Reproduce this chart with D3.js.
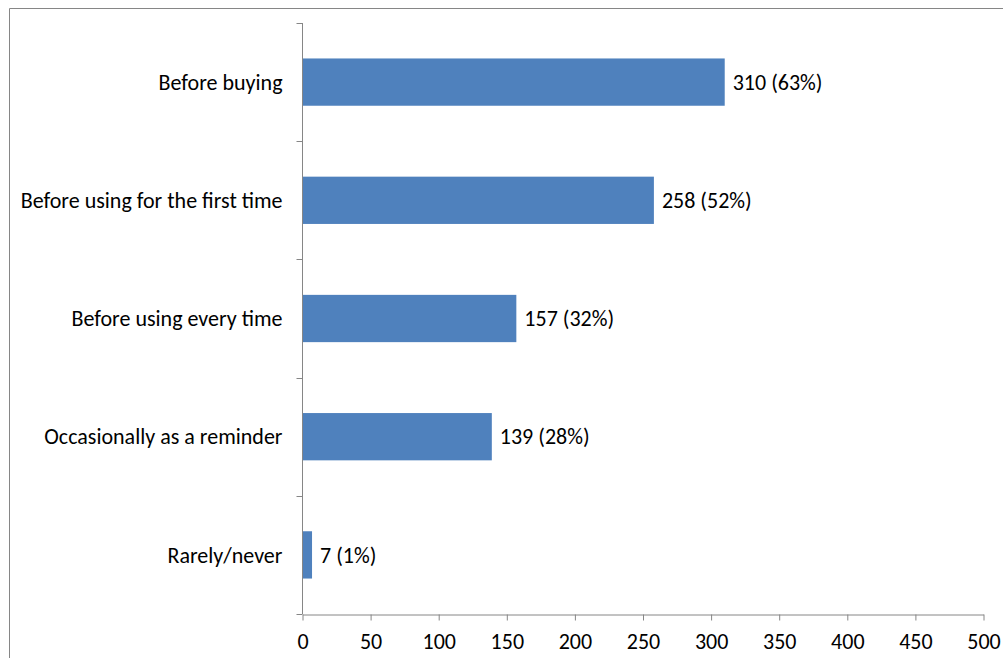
<!DOCTYPE html>
<html>
<head>
<meta charset="utf-8">
<script src="https://cdn.jsdelivr.net/npm/d3@7"></script>
<style>
  html, body { margin: 0; padding: 0; background: #fff; }
  svg { display: block; font-family: Carlito, Lato, "Open Sans", sans-serif; }
</style>
</head>
<body>
<svg id="chart" width="1004" height="658"></svg>
<script>
const categories = [
  "Before buying",
  "Before using for the first time",
  "Before using every time",
  "Occasionally as a reminder",
  "Rarely/never"
];
const counts = [310, 258, 157, 139, 7];
const percents = [63, 52, 32, 28, 1];
const xTicks = [0, 50, 100, 150, 200, 250, 300, 350, 400, 450, 500];

const svg = d3.select("#chart");
const axisColor = "#868686";
const fontSize = 22;

// outer frame
svg.append("path")
  .attr("d", "M9.5,658 V8.5 H1003")
  .attr("fill", "none")
  .attr("stroke", axisColor)
  .attr("stroke-width", 1);

const plotLeft = 302.5, plotRight = 983.5, plotTop = 23, plotBottom = 614;

const x = d3.scaleLinear().domain([0, 500]).range([plotLeft, plotRight]);
const y = d3.scaleBand().domain(categories).range([plotTop, plotBottom]).paddingInner(0.6).paddingOuter(0.3);

const data = categories.map((c, i) => ({ cat: c, n: counts[i], p: percents[i] }));

// bars
svg.append("g").selectAll("rect").data(data).join("rect")
  .attr("x", x(0))
  .attr("y", d => y(d.cat))
  .attr("width", d => x(d.n) - x(0))
  .attr("height", y.bandwidth())
  .attr("fill", "#4F81BD");

// value labels
svg.append("g").selectAll("text").data(data).join("text")
  .attr("x", d => x(d.n) + 8)
  .attr("y", d => y(d.cat) + y.bandwidth() / 2)
  .attr("dy", "0.35em")
  .attr("font-size", fontSize)
  .attr("fill", "#000")
  .text(d => `${d.n} (${d.p}%)`);

// y axis line with band-boundary ticks
const yAxis = svg.append("g");
yAxis.append("line")
  .attr("x1", plotLeft).attr("x2", plotLeft).attr("y1", plotTop).attr("y2", plotBottom)
  .attr("stroke", axisColor);
const step = (plotBottom - plotTop) / categories.length;
yAxis.selectAll("line.tick").data(d3.range(categories.length + 1)).join("line")
  .attr("class", "tick")
  .attr("x1", plotLeft - 6).attr("x2", plotLeft)
  .attr("y1", i => Math.round(plotTop + i * step) + 0.5)
  .attr("y2", i => Math.round(plotTop + i * step) + 0.5)
  .attr("stroke", axisColor);
yAxis.selectAll("text").data(categories).join("text")
  .attr("x", plotLeft - 20)
  .attr("y", d => y(d) + y.bandwidth() / 2)
  .attr("dy", "0.35em")
  .attr("text-anchor", "end")
  .attr("font-size", fontSize)
  .text(d => d);

// x axis
const xAxis = svg.append("g")
  .attr("transform", `translate(0,${plotBottom + 0.5})`)
  .call(d3.axisBottom(x).tickValues(xTicks).tickSize(6).tickSizeOuter(0).tickPadding(13));
xAxis.select(".domain").attr("stroke", axisColor);
xAxis.selectAll(".tick line").attr("stroke", axisColor);
xAxis.selectAll(".tick text")
  .attr("font-size", fontSize)
  .attr("font-family", "Carlito, Lato, 'Open Sans', sans-serif")
  .attr("fill", "#000");
</script>
</body>
</html>
